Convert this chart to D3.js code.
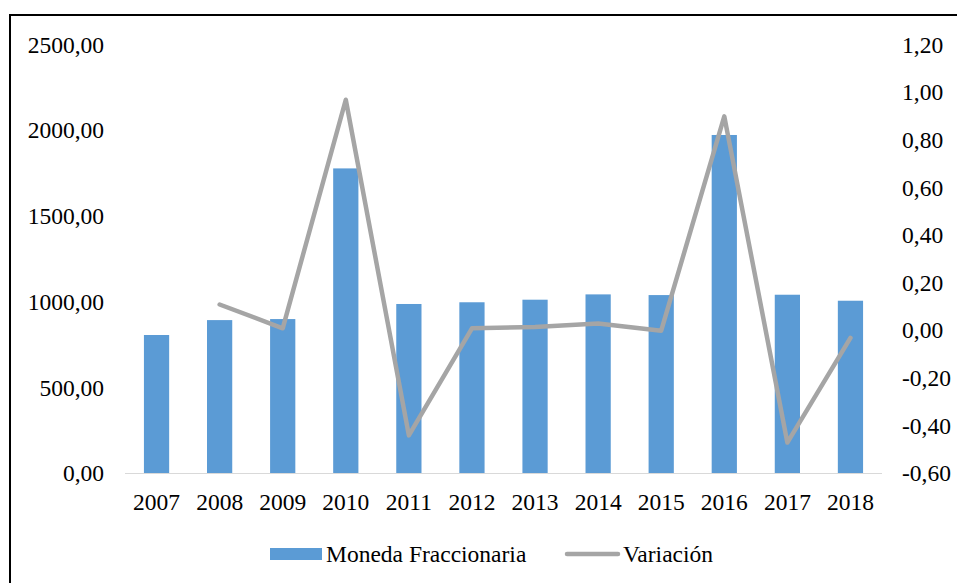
<!DOCTYPE html>
<html>
<head>
<meta charset="utf-8">
<script src="https://cdn.jsdelivr.net/npm/d3@7"></script>
<style>
  body { margin: 0; background: #fff; }
</style>
</head>
<body>
<svg id="chart"></svg>
<script>
const years = ["2007", "2008", "2009", "2010", "2011", "2012", "2013", "2014", "2015", "2016", "2017", "2018"];
const moneda = [808, 895, 901, 1780, 989, 999, 1014, 1045, 1041, 1975, 1043, 1008];
const variacion = [null, 0.11, 0.01, 0.97, -0.44, 0.01, 0.015, 0.03, 0.00, 0.90, -0.47, -0.03];
const leftTicks = [0, 500, 1000, 1500, 2000, 2500];
const rightTicks = [-0.6, -0.4, -0.2, 0, 0.2, 0.4, 0.6, 0.8, 1.0, 1.2];

const width = 957;
const height = 583;
const fontSize = 23.5;
const serif = "'Liberation Serif', 'Times New Roman', Times, 'DejaVu Serif', serif";

const svg = d3.select("#chart")
  .attr("width", width)
  .attr("height", height)
  .attr("font-family", serif);

// outer frame (right and bottom edges fall outside the picture)
svg.append("rect")
  .attr("x", 10)
  .attr("y", 15)
  .attr("width", 1000)
  .attr("height", 700)
  .attr("fill", "none")
  .attr("stroke", "#000")
  .attr("stroke-width", 2);

const plot = {left: 125, right: 882, top: 45, bottom: 473.5};

const x = d3.scaleBand()
  .domain(years)
  .range([plot.left, plot.right])
  .paddingInner(0.6)
  .paddingOuter(0.3);

const yLeft = d3.scaleLinear()
  .domain([0, 2500])
  .range([plot.bottom, plot.top]);

const yRight = d3.scaleLinear()
  .domain([-0.6, 1.2])
  .range([plot.bottom, plot.top]);

const fmt = v => d3.format(".2f")(v).replace(".", ",").replace("−", "-");

function label(sel) {
  return sel.attr("font-family", serif)
    .attr("font-size", fontSize)
    .attr("fill", "#000");
}

// left axis labels
svg.append("g")
  .selectAll("text")
  .data(leftTicks)
  .join("text")
  .attr("x", 104)
  .attr("y", d => yLeft(d))
  .attr("dy", "0.33em")
  .attr("text-anchor", "end")
  .call(label)
  .text(d => fmt(d));

// right axis labels
svg.append("g")
  .selectAll("text")
  .data(rightTicks)
  .join("text")
  .attr("x", 902)
  .attr("y", d => yRight(d))
  .attr("dy", "0.33em")
  .attr("text-anchor", "start")
  .call(label)
  .text(d => fmt(d));

// bars
svg.append("g")
  .selectAll("rect")
  .data(years)
  .join("rect")
  .attr("x", d => x(d))
  .attr("y", (d, i) => yLeft(moneda[i]))
  .attr("width", x.bandwidth())
  .attr("height", (d, i) => yLeft(0) - yLeft(moneda[i]))
  .attr("fill", "#5B9BD5");

// category axis line
svg.append("line")
  .attr("x1", plot.left)
  .attr("x2", plot.right)
  .attr("y1", yLeft(0))
  .attr("y2", yLeft(0))
  .attr("stroke", "#D9D9D9")
  .attr("stroke-width", 1.2);

// x labels
svg.append("g")
  .selectAll("text")
  .data(years)
  .join("text")
  .attr("x", d => x(d) + x.bandwidth() / 2)
  .attr("y", 510)
  .attr("text-anchor", "middle")
  .call(label)
  .text(d => d);

// variation line
const line = d3.line()
  .defined(d => d.v !== null)
  .x(d => x(d.year) + x.bandwidth() / 2)
  .y(d => yRight(d.v));

svg.append("path")
  .datum(years.map((y, i) => ({year: y, v: variacion[i]})))
  .attr("d", line)
  .attr("fill", "none")
  .attr("stroke", "#A5A5A5")
  .attr("stroke-width", 4.5)
  .attr("stroke-linejoin", "round")
  .attr("stroke-linecap", "round");

// legend
const legend = svg.append("g");
legend.append("rect")
  .attr("x", 270)
  .attr("y", 548)
  .attr("width", 52)
  .attr("height", 12)
  .attr("fill", "#5B9BD5");
legend.append("text")
  .attr("x", 326)
  .attr("y", 562)
  .call(label)
  .text("Moneda Fraccionaria");
legend.append("line")
  .attr("x1", 567)
  .attr("x2", 618)
  .attr("y1", 554)
  .attr("y2", 554)
  .attr("stroke", "#A5A5A5")
  .attr("stroke-width", 4.5)
  .attr("stroke-linecap", "round");
legend.append("text")
  .attr("x", 623)
  .attr("y", 562)
  .call(label)
  .text("Variación");
</script>
</body>
</html>
